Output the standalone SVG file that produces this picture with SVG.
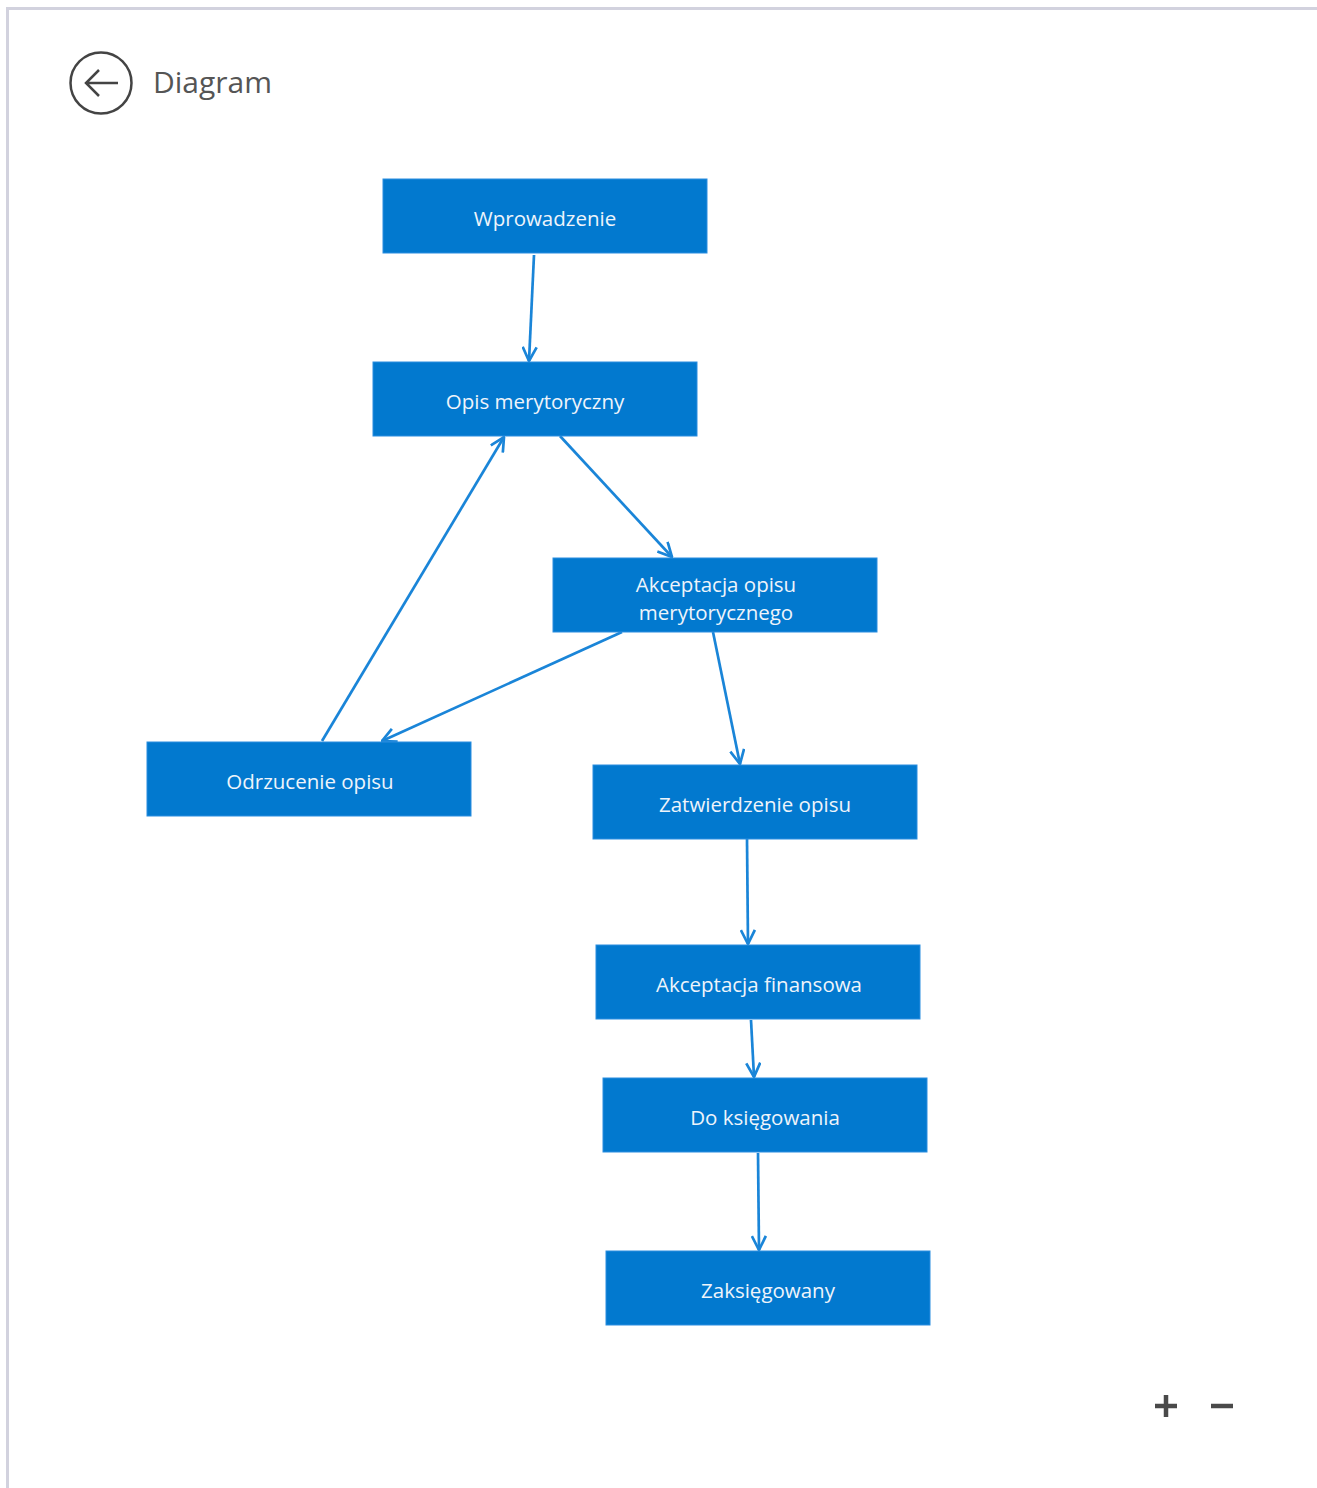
<svg xmlns="http://www.w3.org/2000/svg" width="1317" height="1488" viewBox="0 0 1317 1488">
<style>
.node rect{fill:#0279cf;stroke:#2a8ee0;stroke-width:1}
.node text{fill:#eef4fb;font-family:"Open Sans","Noto Sans",sans-serif;font-size:20.5px;text-anchor:middle;dominant-baseline:central}
.edge{stroke:#1a85d8;stroke-width:2.7;fill:none;marker-end:url(#arr)}
.ui{fill:none;stroke:#444;stroke-width:2.5}
</style>
<defs>
<marker id="arr" viewBox="0 0 16 16" refX="15" refY="8" markerWidth="16" markerHeight="16" markerUnits="userSpaceOnUse" orient="auto">
<path d="M1,1 L15,8 L1,15" fill="none" stroke="#1a85d8" stroke-width="2.7"/>
</marker>
</defs>
<rect x="0" y="0" width="1317" height="1488" fill="#ffffff"/>
<path d="M7.5,1488 V8.5 H1317" fill="none" stroke="#d2d2de" stroke-width="3"/>
<g id="header">
<circle cx="101" cy="83" r="30.5" class="ui" stroke-width="2"/>
<path d="M86,83 H118 M99,70 L86,83 L99,96" class="ui"/>
<text x="153" y="93" font-family="'Open Sans','Noto Sans',sans-serif" font-size="30" fill="#555">Diagram</text>
</g>
<g id="connectors">
<line class="edge" x1="534" y1="255" x2="529" y2="361"/>
<line class="edge" x1="560" y1="436" x2="672" y2="557"/>
<line class="edge" x1="622" y1="632" x2="382" y2="741"/>
<line class="edge" x1="322" y1="741" x2="504" y2="437"/>
<line class="edge" x1="713" y1="632" x2="740" y2="764"/>
<line class="edge" x1="747" y1="839" x2="748" y2="944"/>
<line class="edge" x1="751" y1="1020" x2="754" y2="1077"/>
<line class="edge" x1="758" y1="1153" x2="759" y2="1250"/>
</g>
<g id="n-wprowadzenie" class="node"><rect x="383" y="179" width="324" height="74"/><text x="545" y="218">Wprowadzenie</text></g>
<g id="n-opis" class="node"><rect x="373" y="362" width="324" height="74"/><text x="535" y="401">Opis merytoryczny</text></g>
<g id="n-akceptacja-opisu" class="node"><rect x="553" y="558" width="324" height="74"/><text x="716" y="584">Akceptacja opisu</text><text x="716" y="612">merytorycznego</text></g>
<g id="n-odrzucenie" class="node"><rect x="147" y="742" width="324" height="74"/><text x="310" y="781">Odrzucenie opisu</text></g>
<g id="n-zatwierdzenie" class="node"><rect x="593" y="765" width="324" height="74"/><text x="755" y="804">Zatwierdzenie opisu</text></g>
<g id="n-akceptacja-fin" class="node"><rect x="596" y="945" width="324" height="74"/><text x="759" y="984">Akceptacja finansowa</text></g>
<g id="n-do-ksiegowania" class="node"><rect x="603" y="1078" width="324" height="74"/><text x="765" y="1117">Do księgowania</text></g>
<g id="n-zaksiegowany" class="node"><rect x="606" y="1251" width="324" height="74"/><text x="768" y="1290">Zaksięgowany</text></g>
<g id="zoom-controls">
<path d="M1155,1406 H1177 M1166,1395 V1417" stroke="#4a4a4a" stroke-width="4.5"/>
<path d="M1211,1406 H1233" stroke="#4a4a4a" stroke-width="4.5"/>
</g>
</svg>
